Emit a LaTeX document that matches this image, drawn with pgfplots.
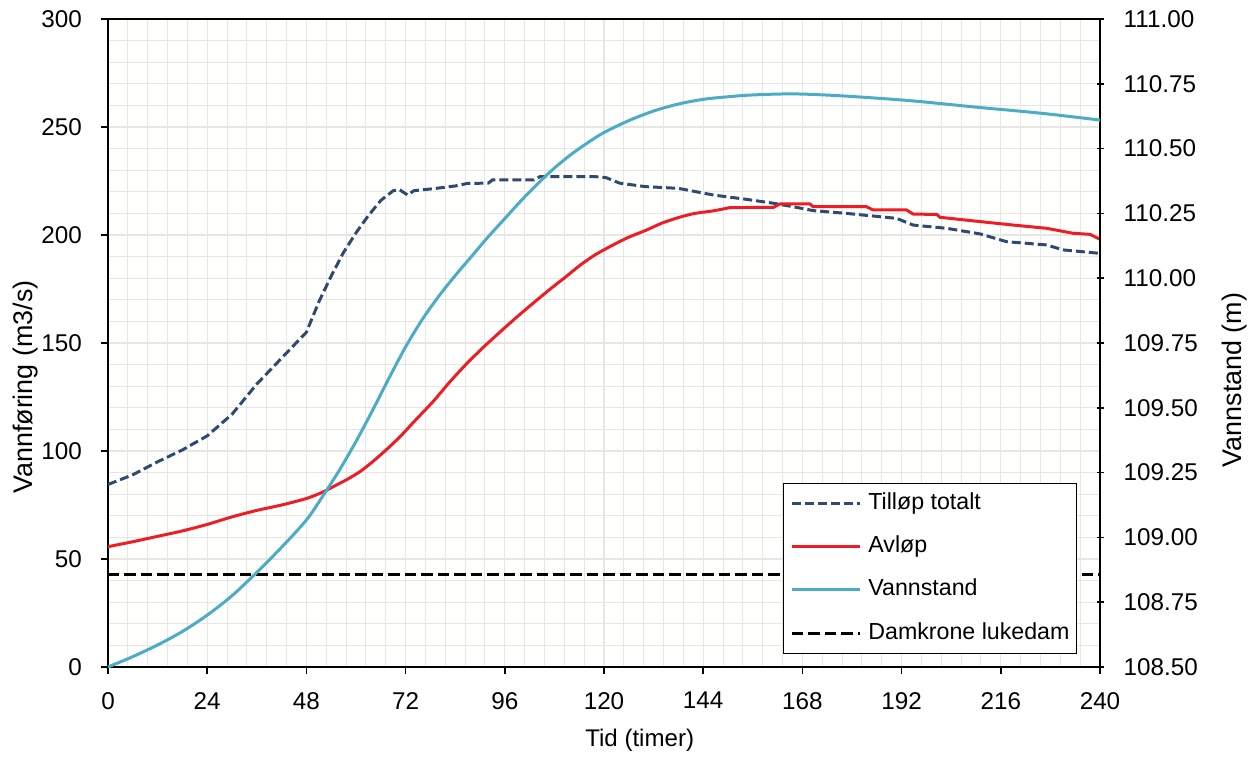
\documentclass[border=0pt]{standalone}
\usepackage{fontspec}
\setmainfont{Liberation Sans}
\usepackage{pgfplots}
\pgfplotsset{compat=1.18}

\definecolor{tillop}{HTML}{2E4A6E}
\definecolor{avlop}{HTML}{EE1C25}
\definecolor{vann}{HTML}{4BACC6}
\definecolor{gridc}{HTML}{E6E6E4}
\definecolor{bgc}{HTML}{FFFFFD}

\pgfplotsset{
  tillopstyle/.style={tillop, line width=1.7pt, dash pattern=on 1.8mm off 0.8mm},
  avlopstyle/.style={avlop, line width=1.7pt},
  vannstyle/.style={vann, line width=1.7pt},
  damstyle/.style={black, line width=1.7pt, dash pattern=on 2.3mm off 1.0mm},
  common/.style={
    width=198.4mm, height=129.6mm, scale only axis,
    xmin=0, xmax=240,
    at={(0,0)}, anchor=south west,
    axis line style={line width=1.5pt},
    major tick length=1.4mm,
    every tick/.style={black, line width=1pt},
    tick label style={font=\fontsize{13.8pt}{16pt}\selectfont},
    /pgf/number format/assume math mode=true,
  }
}

\begin{document}
\begin{tikzpicture}
\useasboundingbox (-21.6mm,-18mm) rectangle (228mm,133.4mm);

\begin{axis}[common,
  ymin=0, ymax=300,
  ytick distance=50, xtick distance=24,
  minor x tick num=4, minor y tick num=4,
  minor tick length=0pt,
  ytick pos=left, xtick pos=bottom,
  tick align=outside,
  yticklabel style={xshift=-2.6mm},
  xticklabel style={yshift=-2.4mm},
  grid=both,
  major grid style={gridc, line width=0.6pt},
  minor grid style={gridc, line width=0.6pt},
  axis background/.style={fill=bgc},
  xlabel={Tid (timer)},
  ylabel={Vannføring (m3/s)},
  xlabel style={at={(axis description cs:0.536,-0.1127)}, anchor=center, font=\fontsize{13.7pt}{16pt}\selectfont},
  ylabel style={at={(axis description cs:-0.0827,0.432)}, anchor=center, font=\fontsize{15.3pt}{18pt}\selectfont},
]
\addplot[tillopstyle] coordinates {
(0,84.5) (6,89) (12,95) (18,100.5) (24,107) (30,117) (36,131) (42,143) (48,155)
(51,169) (54,181) (57,192) (60,201) (63,209) (66,216) (69,220.5) (70.5,221)
(72.5,218.5) (74,220.5) (79,221.5) (84,222.7) (87,223.9) (92,224) (93,225.5)
(103,225.5) (104.5,227) (118,227) (120.6,226.5) (123.8,224) (130,222.4)
(138,221.6) (146.5,218.5) (154.5,216.5) (161,214.7) (166,213) (170.6,211.3)
(178.7,210) (190.8,207.7) (194.8,204.6) (202.9,203.1) (211,200.5) (217.4,196.9)
(227.1,195.4) (231.1,193.1) (240,191.5)
};
\addplot[avlopstyle, smooth, tension=0.4] coordinates {
(0,55.7) (6,58) (12,60.5) (18,63) (24,66) (30,69.5) (36,72.5) (42,75) (48,78)
(52,81) (55,84) (58,87) (61,90.5) (64,95) (67,100) (70.6,106.5) (74,113.5)
(78.7,123) (82.7,132) (86.8,140.5) (90.8,148) (94.8,155) (98.9,162) (102.9,168.5)
(107,175) (111,181) (114.2,186) (118,191) (122.3,195.5) (126,199)
(130.3,202.3) (134,205.5) (138.4,208.3) (142,210) (146.5,211.2) (150.5,212.7)
};
\addplot[avlopstyle] coordinates {
(150.5,212.7)
(161,212.8) (162.6,214.4) (169.8,214.4) (170.6,213.1) (183.5,213.1) (185.1,211.6)
(193.2,211.6) (194.8,209.7) (200.5,209.5) (201.3,208.2) (211,206.2) (219,204.6)
(227.1,203.1) (233.5,200.8) (237.6,200.3) (240,198)
};
\addplot[damstyle] coordinates {(0,43) (240,43)};
\end{axis}

\begin{axis}[common,
  ymin=108.5, ymax=111,
  ytick distance=0.25,
  axis y line*=right, axis x line=none,
  tick align=center,
  yticklabel style={xshift=2.8mm, /pgf/number format/.cd, fixed, fixed zerofill, precision=2},
  ylabel={Vannstand (m)},
  ylabel style={at={(axis description cs:1.136,0.443)}, anchor=center, font=\fontsize{15.3pt}{18pt}\selectfont},
  legend cell align=left,
  legend image code/.code={\draw[#1] (0mm,0mm) -- (13.6mm,0mm);},
  legend style={at={(axis description cs:0.977,0.02)}, anchor=south east,
    draw=black, line width=0.8pt, fill=white,
    font=\fontsize{13.2pt}{15pt}\selectfont,
    inner xsep=1.4mm, inner ysep=1.8mm,
    row sep=4.27mm,
    nodes={inner ysep=0pt, inner xsep=0pt, text height=3.4mm, text depth=1.0mm},
    /tikz/every odd column/.append style={column sep=1.4mm},
  },
]
\addlegendimage{tillopstyle}
\addlegendentry{Tilløp totalt}
\addlegendimage{avlopstyle}
\addlegendentry{Avløp}
\addplot[vannstyle, smooth, tension=0.5] coordinates {
(0,108.50) (6,108.54) (12,108.585) (18,108.637) (24,108.70) (30,108.775)
(36,108.865) (42,108.962) (48,109.067) (52,109.16) (56,109.26) (60,109.37)
(64,109.49) (68,109.615) (72,109.735) (76,109.84) (80,109.93) (84,110.01)
(88,110.085) (92,110.16) (96,110.23) (100,110.30) (104,110.365) (108,110.425)
(112,110.477) (116,110.522) (120,110.562) (126,110.608) (132,110.645)
(138,110.672) (144,110.69) (150,110.70) (156,110.707)
(166,110.711) (178,110.703) (194,110.685) (210,110.66) (226,110.636) (240,110.61)
};
\addlegendentry{Vannstand}
\addlegendimage{damstyle}
\addlegendentry{Damkrone lukedam}
\end{axis}
\end{tikzpicture}
\end{document}
